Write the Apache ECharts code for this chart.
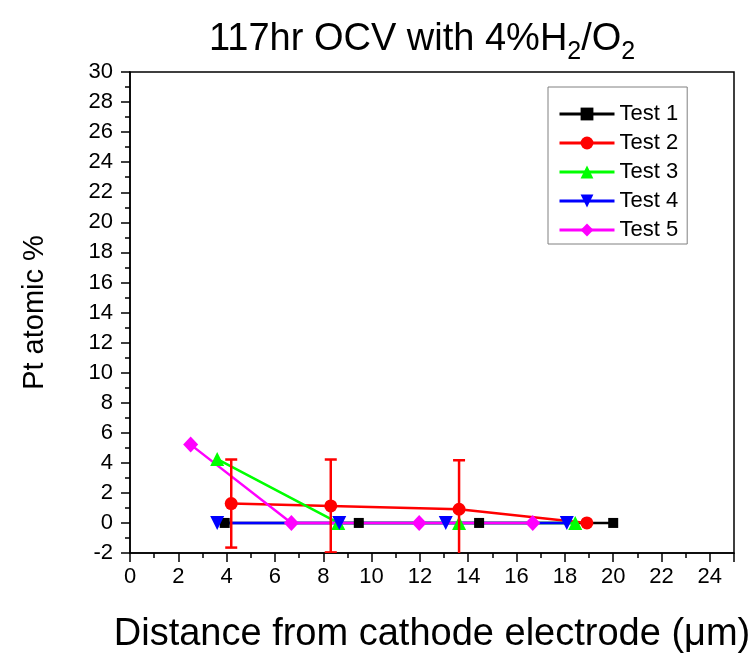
<!DOCTYPE html>
<html>
<head>
<meta charset="utf-8">
<script src="https://cdn.jsdelivr.net/npm/echarts@6/dist/echarts.min.js"></script>
<style>
  html, body { margin: 0; padding: 0; background: #fff; }
  #chart { width: 755px; height: 655px; }
</style>
</head>
<body>
<div id="chart"></div>
<script>
// values
const test1X = [3.92, 9.47, 14.45, 20.0];
const test1Y = [0, 0, 0, 0];
const test2X = [4.19, 8.31, 13.62, 18.91];
const test2Y = [1.29, 1.13, 0.91, 0];
const test2Err = [2.93, 3.09, 3.26, 0];
const test3X = [3.61, 8.62, 13.62, 18.43];
const test3Y = [4.25, 0, 0, 0];
const test4X = [3.61, 8.66, 13.07, 18.08];
const test4Y = [0, 0, 0, 0];
const test5X = [2.51, 6.68, 11.97, 16.67];
const test5Y = [5.21, 0, 0, 0];

const FONT = 'Liberation Sans';

const pairs = (xs, ys) => xs.map((x, i) => [x, ys[i]]);

const errData = test2X
    .map((x, i) => [x, test2Y[i] - test2Err[i], test2Y[i] + test2Err[i], test2Err[i]])
    .filter((d) => d[3] > 0);

const lineSeries = (name, xs, ys, color, symbol, size, rotate) => ({
    name: name,
    type: 'line',
    data: pairs(xs, ys),
    symbol: symbol,
    symbolSize: size,
    symbolRotate: rotate || 0,
    showAllSymbol: true,
    lineStyle: { color: color, width: 2.5 },
    itemStyle: { color: color },
    emphasis: { disabled: true },
    z: 3
});

const renderErr = (params, api) => {
    const x = api.value(0);
    const lo = api.value(1);
    const hi = api.value(2);
    const top = api.coord([x, hi]);
    const bot = api.coord([x, lo]);
    const half = 6;
    const style = { stroke: '#ff0000', lineWidth: 2.5 };
    return {
        type: 'group',
        children: [
            { type: 'line', shape: { x1: top[0], y1: top[1], x2: bot[0], y2: bot[1] }, style: style },
            { type: 'line', shape: { x1: top[0] - half, y1: top[1], x2: top[0] + half, y2: top[1] }, style: style },
            { type: 'line', shape: { x1: bot[0] - half, y1: bot[1], x2: bot[0] + half, y2: bot[1] }, style: style }
        ]
    };
};

const chart = echarts.init(document.getElementById('chart'));
chart.setOption({
    animation: false,
    backgroundColor: '#fff',
    textStyle: { fontFamily: FONT },
    title: {
        text: '{m|117hr OCV with 4%H}{s|2}{m|/O}{s|2}',
        left: 204,
        top: 15,
        textStyle: {
            rich: {
                m: { fontFamily: FONT, fontSize: 38, fontWeight: 'normal', color: '#000', lineHeight: 40 },
                s: { fontFamily: FONT, fontSize: 25, fontWeight: 'normal', color: '#000', lineHeight: 25, padding: [24, 0, 0, 0] }
            }
        }
    },
    legend: {
        orient: 'vertical',
        left: 548,
        top: 87,
        padding: [16, 9, 3, 10],
        itemWidth: 55,
        itemHeight: 16,
        itemGap: 7,
        borderColor: '#808080',
        borderWidth: 1,
        borderRadius: 0,
        lineStyle: { width: 3 },
        textStyle: { fontFamily: FONT, fontSize: 22, color: '#000', lineHeight: 22 },
        data: ['Test 1', 'Test 2', 'Test 3', 'Test 4', 'Test 5']
    },
    grid: {
        left: 130,
        right: 21,
        top: 72,
        bottom: 102,
        outerBoundsMode: 'none',
        show: true,
        borderColor: '#000',
        borderWidth: 1.5,
        backgroundColor: 'transparent'
    },
    xAxis: {
        type: 'value',
        min: 0,
        max: 25,
        interval: 2,
        name: 'Distance from cathode electrode (\u03bcm)',
        nameLocation: 'middle',
        nameGap: 63,
        nameTextStyle: { fontFamily: FONT, fontSize: 38, color: '#000' },
        axisLine: { onZero: false, lineStyle: { color: '#000', width: 1.5 } },
        axisTick: { length: 9, lineStyle: { color: '#000', width: 1.5 } },
        minorTick: { show: true, splitNumber: 2, length: 5, lineStyle: { color: '#000', width: 1.5 } },
        axisLabel: {
            margin: 13, fontFamily: FONT, fontSize: 22, color: '#000',
            showMaxLabel: false
        },
        splitLine: { show: false }
    },
    yAxis: {
        type: 'value',
        min: -2,
        max: 30,
        interval: 2,
        name: 'Pt atomic %',
        nameLocation: 'middle',
        nameGap: 81,
        nameTextStyle: { fontFamily: FONT, fontSize: 29, color: '#000' },
        axisLine: { onZero: false, lineStyle: { color: '#000', width: 1.5 } },
        axisTick: { length: 9, lineStyle: { color: '#000', width: 1.5 } },
        minorTick: { show: true, splitNumber: 2, length: 5, lineStyle: { color: '#000', width: 1.5 } },
        axisLabel: { margin: 17, fontFamily: FONT, fontSize: 22, color: '#000' },
        splitLine: { show: false }
    },
    series: [
        lineSeries('Test 1', test1X, test1Y, '#000000', 'rect', 10),
        lineSeries('Test 2', test2X, test2Y, '#ff0000', 'circle', 13),
        {
            name: 'err',
            type: 'custom',
            renderItem: renderErr,
            data: errData,
            clip: true,
            z: 4
        },
        lineSeries('Test 3', test3X, test3Y, '#00ff00', 'triangle', 14),
        lineSeries('Test 4', test4X, test4Y, '#0000ff', 'triangle', 14, 180),
        lineSeries('Test 5', test5X, test5Y, '#ff00ff', 'diamond', [15, 16])
    ]
});
</script>
</body>
</html>
